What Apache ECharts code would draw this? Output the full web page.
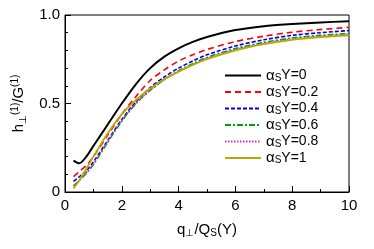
<!DOCTYPE html>
<html><head><meta charset="utf-8">
<script src="https://cdn.jsdelivr.net/npm/echarts@6/dist/echarts.min.js"></script>
<style>html,body{margin:0;padding:0;background:#fff}#c{width:374px;height:249px}</style>
</head><body><div id="c"></div>
<script>
const xs = [0.3, 0.5, 0.75, 1, 1.5, 2, 2.5, 3, 3.5, 4, 4.5, 5, 6, 7, 8, 9, 10];
const y0  = [0.177, 0.162, 0.2, 0.26, 0.38, 0.5, 0.61, 0.7, 0.765, 0.812, 0.848, 0.876, 0.915, 0.937, 0.949, 0.958, 0.965];
const y02 = [0.087, 0.115, 0.15, 0.2, 0.32, 0.44, 0.54, 0.63, 0.69, 0.74, 0.775, 0.805, 0.85, 0.88, 0.903, 0.918, 0.93];
const y04 = [0.06, 0.085, 0.12, 0.17, 0.29, 0.41, 0.51, 0.59, 0.65, 0.70, 0.74, 0.775, 0.825, 0.86, 0.885, 0.9, 0.912];
const y06 = [0.035, 0.065, 0.105, 0.155, 0.28, 0.4, 0.5, 0.575, 0.635, 0.685, 0.725, 0.76, 0.81, 0.845, 0.87, 0.885, 0.895];
const y08 = [0.035, 0.065, 0.11, 0.16, 0.285, 0.405, 0.5, 0.575, 0.635, 0.68, 0.72, 0.755, 0.805, 0.84, 0.865, 0.88, 0.89];
const y1  = [0.02, 0.065, 0.13, 0.2, 0.33, 0.44, 0.52, 0.585, 0.638, 0.68, 0.718, 0.75, 0.8, 0.835, 0.86, 0.875, 0.885];
const seriesNames = ['Y=0', 'Y=0.2', 'Y=0.4', 'Y=0.6', 'Y=0.8', 'Y=1'];
const seriesVals = [y0, y02, y04, y06, y08, y1];
const xTicks = [0, 2, 4, 6, 8, 10];
const yTicks = [0, 0.5, 1.0];

const styles = [
  {color:'#000000', type:'solid', width:2},
  {color:'#ff0000', type:[6,4], width:1.6},
  {color:'#0000dd', type:[4,2], width:1.6},
  {color:'#00a000', type:[6,2,2,2], width:1.6},
  {color:'#cc33cc', type:[1.5,1.5], width:1.4},
  {color:'#b8a800', type:'solid', width:1.8}
];
const font = 'Liberation Sans, Arial, sans-serif';
const chart = echarts.init(document.getElementById('c'));
chart.setOption({
  animation:false,
  grid:{left:65, right:25, top:15, bottom:57, show:true, borderColor:'#000', borderWidth:1},
  legend:{
    orient:'vertical', left:219, top:63, itemWidth:36, itemHeight:10, itemGap:1.5,
    itemStyle:{opacity:0},
    formatter: n => '{a|α}{s|S}{n|' + n + '}',
    textStyle:{fontFamily:font, fontSize:14, color:'#000', lineHeight:15,
      rich:{a:{fontSize:15, fontFamily:font, lineHeight:15}, s:{fontSize:10, fontFamily:font, lineHeight:15, padding:[5,0,0,0]}, n:{fontSize:14, fontFamily:font, lineHeight:15}}},
    data: seriesNames
  },
  xAxis:{type:'value', min:0, max:10, interval:2,
    name:'{q|q}{p|⊥}{r|/Q}{p|S}{r|(Y)}', nameLocation:'middle', nameGap:30,
    nameTextStyle:{fontFamily:font, fontSize:15, color:'#000',
      rich:{q:{fontSize:15,fontFamily:font}, p:{fontSize:10,fontFamily:font,padding:[6,0,0,0]}, r:{fontSize:15,fontFamily:font}}},
    axisLine:{lineStyle:{color:'#000', width:1}},
    axisTick:{inside:true, length:6, lineStyle:{color:'#000'}},
    minorTick:{show:true, splitNumber:2, length:3, lineStyle:{color:'#000'}},
    splitLine:{show:false},
    axisLabel:{fontFamily:font, fontSize:15, color:'#000', margin:6, formatter: v => xTicks.includes(v) ? String(v) : ''}
  },
  yAxis:{type:'value', min:0, max:1, interval:0.5,
    name:'{h|h}{p|⊥}{u|(1)}{h|/G}{u|(1)}', nameLocation:'middle', nameGap:30, nameRotate:90,
    nameTextStyle:{fontFamily:font, fontSize:15, color:'#000',
      rich:{h:{fontSize:15,fontFamily:font}, p:{fontSize:10,fontFamily:font,padding:[8,0,0,0]}, u:{fontSize:10,fontFamily:font,padding:[0,0,8,0]}}},
    axisLine:{lineStyle:{color:'#000', width:1}},
    axisTick:{inside:true, length:6, lineStyle:{color:'#000'}},
    minorTick:{show:true, splitNumber:5, length:3, lineStyle:{color:'#000'}},
    splitLine:{show:false},
    axisLabel:{fontFamily:font, fontSize:15, color:'#000', margin:5, formatter: v => yTicks.includes(v) ? (v===0?'0':v.toFixed(1)) : ''}
  },
  series: seriesNames.map((n,i)=>({
    name:n, type:'line', smooth:0.3, symbol:'none',
    data: xs.map((x,j)=>[x, seriesVals[i][j]]),
    lineStyle:{color:styles[i].color, type:styles[i].type, width:styles[i].width},
    itemStyle:{color:styles[i].color}
  }))
});
</script></body></html>
